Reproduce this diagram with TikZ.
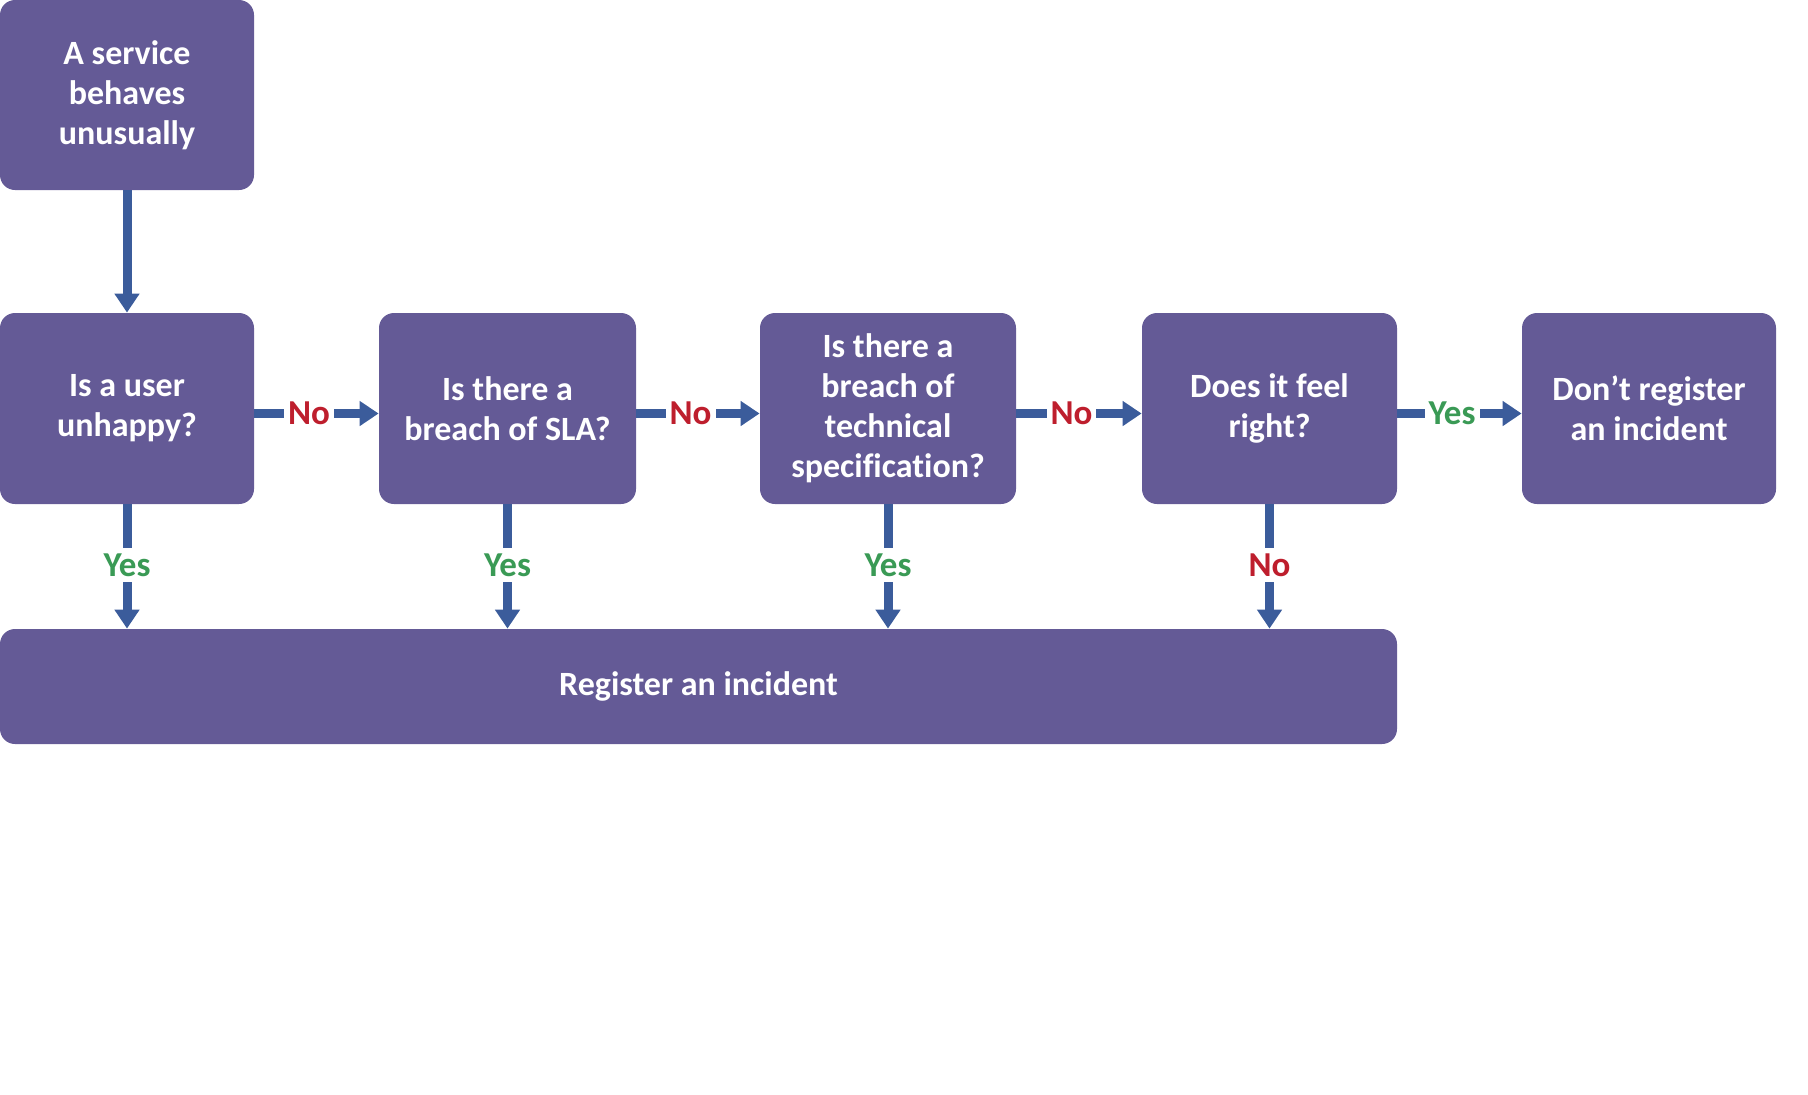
\documentclass[tikz,border=0pt]{standalone}
\usepackage{fontspec}
\setmainfont{Carlito}[Ligatures=NoCommon]
\usetikzlibrary{arrows.meta}
\definecolor{boxfill}{HTML}{645A96}
\definecolor{arrowblue}{HTML}{3B5C9B}
\definecolor{nored}{HTML}{BE1E2D}
\definecolor{yesgreen}{HTML}{3A9A55}
\tikzset{
  x=0.5pt, y=-0.5pt,
  flowbox/.style={fill=boxfill, draw=none, rounded corners=7.5pt, text=white,
    font=\fontsize{17}{20}\selectfont\bfseries, align=center, inner sep=0pt,
    minimum height=95.5pt},
  flowarrow/.style={draw=arrowblue, line width=4.5pt,
    -{Triangle[length=9.5pt,width=12pt]}},
  lbl/.style={fill=white, inner xsep=2pt, inner ysep=3pt,
    font=\fontsize{17.5}{20}\selectfont\bfseries, text height=11.2pt, text depth=0pt},
  nolbl/.style={lbl, text=nored},
  yeslbl/.style={lbl, text=yesgreen}
}
\begin{document}
\begin{tikzpicture}
\useasboundingbox (0,0) rectangle (1808,1094);
\node[flowbox, minimum width=127pt, minimum height=95pt] (top) at (127,95) {A service\\behaves\\unusually};
\node[flowbox, minimum width=127pt] (b1) at (127,408.5) {Is a user\\unhappy?};
\node[flowbox, minimum width=128.5pt] (b2) at (507.5,408.5) {Is there a\\breach of SLA?};
\node[flowbox, minimum width=128pt] (b3) at (888,408.5) {Is there a\\breach of\\technical\\specification?};
\node[flowbox, minimum width=127.5pt] (b4) at (1269.5,408.5) {Does it feel\\right?};
\node[flowbox, minimum width=127pt] (b5) at (1649,408.5) {Don’t register\\an incident};
\node[flowbox, minimum width=698.5pt, minimum height=57.5pt] (reg) at (698.5,686.5) {Register an incident};

\draw[flowarrow] (top) -- (b1);

\draw[flowarrow] ([yshift=-2.5pt]b1.east) -- node[nolbl, pos=0.44] {No} ([yshift=-2.5pt]b2.west);
\draw[flowarrow] ([yshift=-2.5pt]b2.east) -- node[nolbl, pos=0.44] {No} ([yshift=-2.5pt]b3.west);
\draw[flowarrow] ([yshift=-2.5pt]b3.east) -- node[nolbl, pos=0.44] {No} ([yshift=-2.5pt]b4.west);
\draw[flowarrow] ([yshift=-2.5pt]b4.east) -- node[yeslbl, pos=0.44] {Yes} ([yshift=-2.5pt]b5.west);

\draw[flowarrow] (b1.south) -- node[yeslbl, pos=0.49] {Yes} (b1.south |- reg.north);
\draw[flowarrow] (b2.south) -- node[yeslbl, pos=0.49] {Yes} (b2.south |- reg.north);
\draw[flowarrow] (b3.south) -- node[yeslbl, pos=0.49] {Yes} (b3.south |- reg.north);
\draw[flowarrow] (b4.south) -- node[nolbl, pos=0.49] {No} (b4.south |- reg.north);
\end{tikzpicture}
\end{document}
